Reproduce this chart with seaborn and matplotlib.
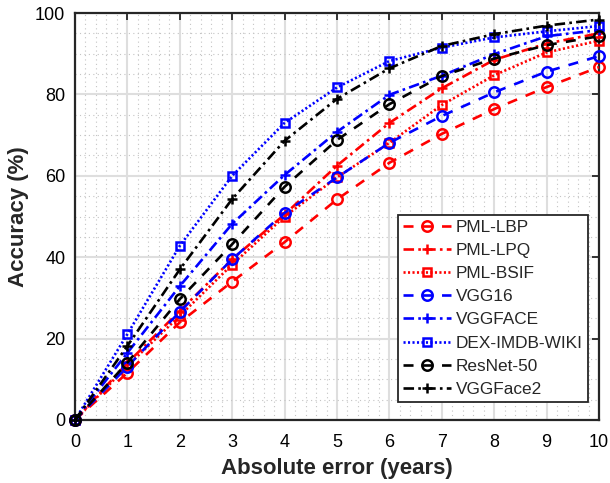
import matplotlib
matplotlib.use("Agg")
import matplotlib.pyplot as plt
import seaborn as sns
import pandas as pd
import numpy as np

x_err = [0, 1, 2, 3, 4, 5, 6, 7, 8, 9, 10]
pml_lbp = [0, 11.6, 24.0, 34.0, 43.7, 54.2, 63.2, 70.3, 76.4, 81.8, 86.7]
pml_lpq = [0, 14.0, 26.8, 39.5, 50.5, 62.5, 73.0, 81.5, 88.5, 92.5, 95.0]
pml_bsif = [0, 13.3, 25.6, 38.2, 50.0, 59.6, 68.1, 77.4, 84.7, 90.3, 93.2]
vgg16 = [0, 13.1, 26.6, 39.5, 50.9, 59.6, 68.1, 74.7, 80.5, 85.6, 89.4]
vggface = [0, 16.5, 32.9, 48.2, 60.2, 70.8, 79.9, 84.6, 89.9, 94.3, 95.8]
dex = [0, 21.1, 42.8, 60.0, 73.0, 81.7, 88.2, 91.5, 94.0, 95.5, 96.8]
resnet50 = [0, 14.1, 29.7, 43.2, 57.3, 68.8, 77.6, 84.5, 88.8, 92.1, 94.3]
vggface2 = [0, 18.2, 37.0, 54.3, 68.6, 78.9, 86.4, 91.9, 94.8, 96.9, 98.4]

names = ["PML-LBP", "PML-LPQ", "PML-BSIF", "VGG16", "VGGFACE",
         "DEX-IMDB-WIKI", "ResNet-50", "VGGFace2"]
series = [pml_lbp, pml_lpq, pml_bsif, vgg16, vggface, dex, resnet50, vggface2]

dashed = (0, (3.8, 3.5))
dashdot = (0, (4.0, 1.6, 1.0, 1.6))
dotted = (0, (0.8, 0.9))
styles = [
    ("#ff0000", dashed, "o"),
    ("#ff0000", dashdot, "+"),
    ("#ff0000", dotted, "s"),
    ("#0000ff", dashed, "o"),
    ("#0000ff", dashdot, "+"),
    ("#0000ff", dotted, "s"),
    ("#000000", dashed, "o"),
    ("#000000", dashdot, "+"),
]

rows = []
for n, s in zip(names, series):
    for xv, yv in zip(x_err, s):
        rows.append({"err": xv, "acc": yv, "model": n})
df = pd.DataFrame(rows)

sns.set_theme(style="white")
plt.rcParams["font.family"] = ["Liberation Sans", "DejaVu Sans"]

fig = plt.figure(figsize=(6.10, 4.83), dpi=100)
ax = fig.add_axes([75 / 610, 63 / 483, 524 / 610, 407 / 483])

for n, (c, ls, m) in zip(names, styles):
    sub = df[df["model"] == n]
    ms = 7.5 if m == "o" else (7.5 if m == "+" else 5.5)
    sns.lineplot(data=sub, x="err", y="acc", ax=ax, color=c, linestyle=ls,
                 linewidth=1.9, marker=m, markersize=ms, markerfacecolor="none",
                 markeredgecolor=c, markeredgewidth=1.8, label=n, clip_on=False,
                 zorder=3)

ax.set_xlim(0, 10)
ax.set_ylim(0, 100)
ax.set_xticks(np.arange(0, 11, 1))
ax.set_yticks(np.arange(0, 101, 20))
ax.set_xticks(np.arange(0, 10.01, 0.2), minor=True)
ax.set_yticks(np.arange(0, 100.1, 5), minor=True)
ax.grid(True, which="major", color="#dedede", linewidth=1.5, linestyle="-")
ax.grid(True, which="minor", color="#c4c4c4", linewidth=0.8, linestyle=(0, (1, 3)))
ax.set_axisbelow(True)
ax.tick_params(which="major", direction="in", length=5, width=1.3, color="#262626",
               top=True, right=True, labelsize=13, labelcolor="black")
ax.tick_params(axis="x", which="major", pad=10)
ax.tick_params(axis="y", which="major", pad=7)
ax.tick_params(which="minor", length=0)
for sp in ax.spines.values():
    sp.set_color("#262626")
    sp.set_linewidth(1.6)
    sp.set_visible(True)

ax.set_xlabel("Absolute error (years)", fontsize=16, fontweight="bold", labelpad=5)
ax.set_ylabel("Accuracy (%)", fontsize=16, fontweight="bold", labelpad=4)

leg = ax.legend(loc="lower right", bbox_to_anchor=(0.979, 0.044), borderaxespad=0,
                fontsize=12.4, frameon=True, fancybox=False, framealpha=1,
                edgecolor="#262626", handlelength=2.75, handletextpad=0.3,
                labelspacing=0.47, borderpad=0.3)
leg.get_frame().set_linewidth(1.3)

fig.savefig("out.png", dpi=100)
